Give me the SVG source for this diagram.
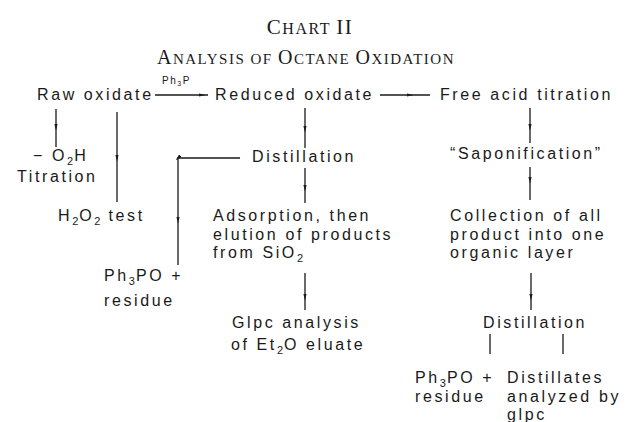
<svg xmlns="http://www.w3.org/2000/svg" width="636" height="422" viewBox="0 0 636 422">
  <style>
    .t { font-family: "Liberation Sans", Arial, sans-serif; font-size: 16px; letter-spacing: 2.6px; fill: #1a1a1a; }
    .sub { font-size: 11px; letter-spacing: 1px; }
    .title { font-family: "Liberation Serif", "Times New Roman", serif; fill: #1a1a1a; letter-spacing: 1.5px; }
    .big1 { font-size: 21px; }
    .sc1 { font-size: 16px; }
    .big2 { font-size: 20px; }
    .sc2 { font-size: 15px; }
    .reag { font-family: "Liberation Sans", Arial, sans-serif; font-size: 10px; letter-spacing: 1.5px; fill: #1a1a1a; }
    .ln { fill: none; stroke: #1a1a1a; stroke-width: 1.3; }
  </style>
  <defs>
    <marker id="head" viewBox="0 0 7 5" refX="3.5" refY="2.5" markerWidth="7" markerHeight="5" markerUnits="userSpaceOnUse" orient="auto">
      <path d="M0,0.8 L7,2.5 L0,4.2 Z" fill="#1a1a1a"/>
    </marker>
  </defs>

  <!-- heading -->
  <g id="heading">
    <text class="title" x="310" y="34" text-anchor="middle"><tspan class="big1">C</tspan><tspan class="sc1">HART </tspan><tspan class="big1">II</tspan></text>
    <text class="title" x="306" y="64" text-anchor="middle"><tspan class="big2">A</tspan><tspan class="sc2">NALYSIS OF </tspan><tspan class="big2">O</tspan><tspan class="sc2">CTANE </tspan><tspan class="big2">O</tspan><tspan class="sc2">XIDATION</tspan></text>
  </g>

  <!-- connectors -->
  <g id="connectors">
    <polyline class="ln" points="155,95 202,95 208,95" marker-mid="url(#head)"/>
    <text class="reag" x="162" y="84">Ph<tspan font-size="7" dy="2">3</tspan><tspan dy="-2">P</tspan></text>
    <polyline class="ln" points="380,95 410,95 430,95" marker-mid="url(#head)"/>
    <polyline class="ln" points="56,109 56,127 56,147" marker-mid="url(#head)"/>
    <polyline class="ln" points="117,112 117,158 117,202" marker-mid="url(#head)"/>
    <polyline class="ln" points="305,108 305,129 305,148" marker-mid="url(#head)"/>
    <polyline class="ln" points="240,158 178,158 178,220 178,265" marker-mid="url(#head)"/>
    <polyline class="ln" points="305,168 305,188 305,203" marker-mid="url(#head)"/>
    <polyline class="ln" points="305,273 305,297 305,310" marker-mid="url(#head)"/>
    <polyline class="ln" points="530,108 530,127 530,143" marker-mid="url(#head)"/>
    <polyline class="ln" points="530,167 530,180 530,200" marker-mid="url(#head)"/>
    <polyline class="ln" points="531,273 531,297 531,310" marker-mid="url(#head)"/>
    <line class="ln" x1="490" y1="334" x2="490" y2="354" stroke-width="1"/>
    <line class="ln" x1="563" y1="334" x2="563" y2="354"/>
  </g>

  <g id="raw-oxidate"><text class="t" x="37" y="100">Raw oxidate</text></g>
  <g id="reduced-oxidate"><text class="t" x="215" y="100">Reduced oxidate</text></g>
  <g id="free-acid-titration"><text class="t" x="440" y="100">Free acid titration</text></g>

  <g id="o2h-titration">
    <text class="t" x="33" y="161">− O<tspan class="sub" dy="4">2</tspan><tspan dy="-4">H</tspan></text>
    <text class="t" x="17" y="182">Titration</text>
  </g>
  <g id="h2o2-test">
    <text class="t" x="58" y="221">H<tspan class="sub" dy="4">2</tspan><tspan dy="-4">O</tspan><tspan class="sub" dy="4">2</tspan><tspan dy="-4"> test</tspan></text>
  </g>

  <g id="distillation-1"><text class="t" x="252" y="162">Distillation</text></g>
  <g id="residue-1">
    <text class="t" x="104" y="281">Ph<tspan class="sub" dy="4">3</tspan><tspan dy="-4">PO +</tspan></text>
    <text class="t" x="104" y="306">residue</text>
  </g>
  <g id="adsorption">
    <text class="t" x="213" y="221">Adsorption, then</text>
    <text class="t" x="213" y="239.5">elution of products</text>
    <text class="t" x="213" y="258">from SiO<tspan class="sub" dy="4">2</tspan></text>
  </g>
  <g id="glpc-analysis">
    <text class="t" x="232" y="328">Glpc analysis</text>
    <text class="t" x="231" y="350">of Et<tspan class="sub" dy="4">2</tspan><tspan dy="-4">O eluate</tspan></text>
  </g>

  <g id="saponification"><text class="t" x="450" y="159">“Saponification”</text></g>
  <g id="collection">
    <text class="t" x="450" y="221">Collection of all</text>
    <text class="t" x="450" y="239.5">product into one</text>
    <text class="t" x="450" y="258">organic layer</text>
  </g>
  <g id="distillation-2"><text class="t" x="483" y="328">Distillation</text></g>
  <g id="residue-2">
    <text class="t" x="415" y="383">Ph<tspan class="sub" dy="4">3</tspan><tspan dy="-4">PO +</tspan></text>
    <text class="t" x="415" y="402">residue</text>
  </g>
  <g id="distillates">
    <text class="t" x="507" y="383">Distillates</text>
    <text class="t" x="507" y="402">analyzed by</text>
    <text class="t" x="507" y="420">glpc</text>
  </g>
</svg>
